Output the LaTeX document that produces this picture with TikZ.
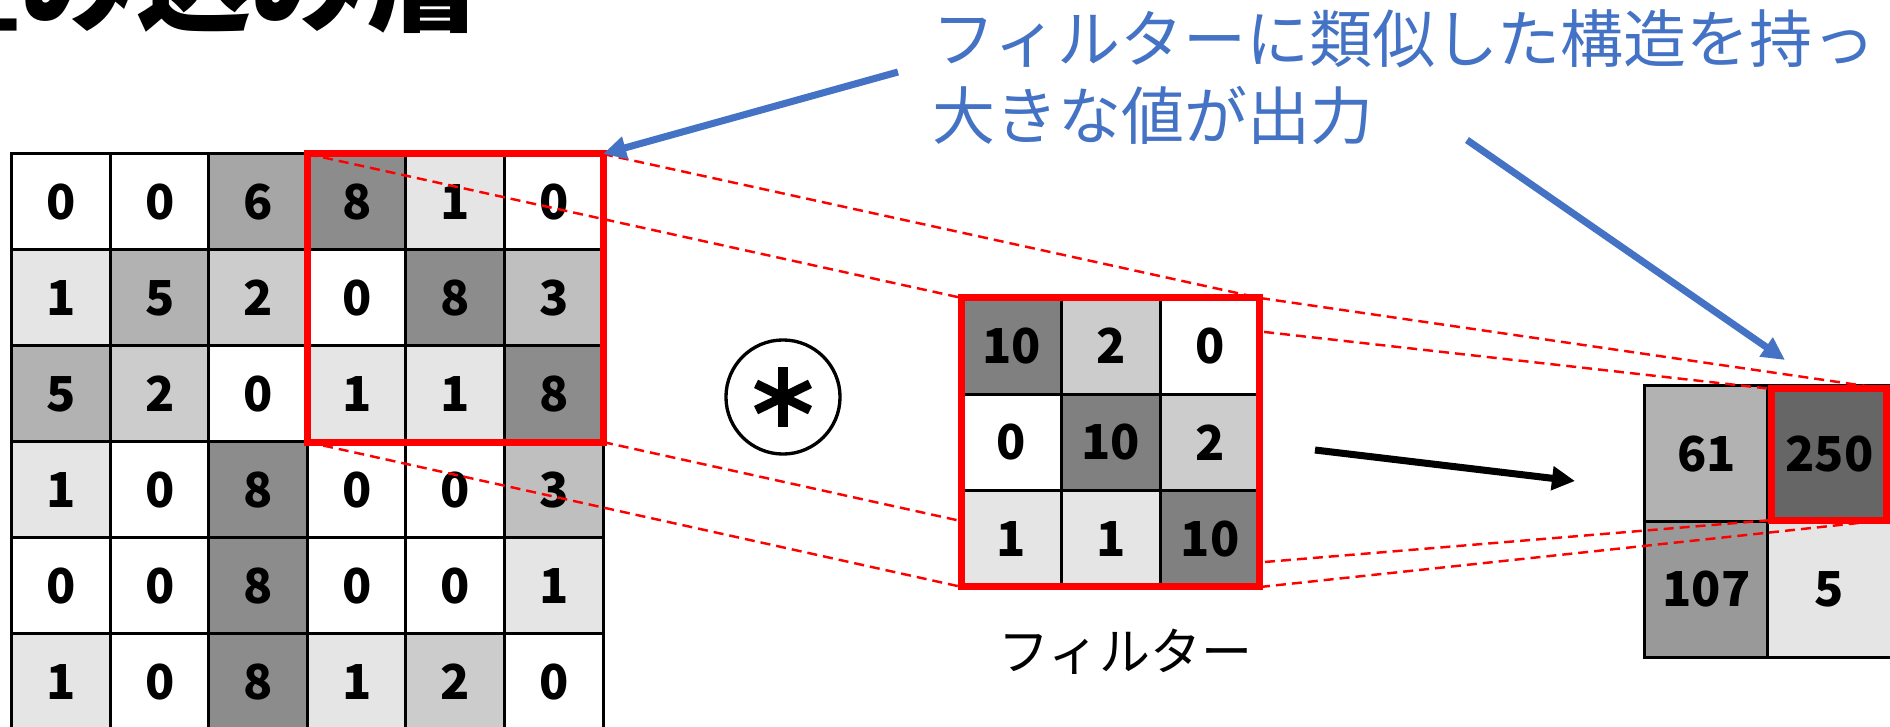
\documentclass[tikz,border=0pt]{standalone}
\usepackage{fontspec}
\setmainfont{Noto Sans CJK JP}
\usepackage{tikz}
\usetikzlibrary{arrows.meta,calc}
\definecolor{accent}{RGB}{68,114,196}
\definecolor{markred}{RGB}{255,0,0}
\colorlet{v0}{white}
\colorlet{v1}{black!10}
\colorlet{v2}{black!20}
\colorlet{v3}{black!25}
\colorlet{v5}{black!30}
\colorlet{v6}{black!35}
\colorlet{v8}{black!45}
\colorlet{v10}{black!50}

\begin{document}
\begin{tikzpicture}[x=0.01cm, y=-0.01cm, >=Stealth,
    cell/.style={draw, line width=0.85pt, inner sep=0pt, outer sep=0pt,
      font=\bfseries\fontsize{13.7}{16}\selectfont},
    incell/.style={cell, minimum width=0.985cm, minimum height=0.96cm},
    fcell/.style={cell, minimum width=0.993cm, minimum height=0.963cm},
    ocell/.style={cell, minimum width=1.23cm, minimum height=1.355cm},
    redbox/.style={draw=markred, line width=2pt},
    guide/.style={markred, line width=0.7pt, dash pattern=on 2.85pt off 1.7pt},
    note arrow/.style={accent, line width=2pt, -{Triangle[length=0.23cm, width=0.22cm]}},
  ]
  \useasboundingbox (0,0) rectangle (1890,727);
  \clip (0,0) rectangle (1890,727);

  % Title
  \node[anchor=base east, inner sep=0pt, font=\bfseries\fontsize{32.7}{36}\selectfont] (title) at (482,22) {畳み込み層};

  % Input image
  \foreach \row [count=\r] in {{0,0,6,8,1,0},{1,5,2,0,8,3},{5,2,0,1,1,8},{1,0,8,0,0,3},{0,0,8,0,0,1},{1,0,8,1,2,0}} {
    \foreach \v [count=\c] in \row {
      \node[incell, fill=v\v] (in-\r-\c) at ({12+98.5*(\c-0.5)}, {154+96*(\r-0.5)}) {\v};
    }
  }

  % Output map
  \foreach \v/\shade/\r/\c in {61/black!30/1/1, 250/black!60/1/2, 107/black!40/2/1, 5/black!10/2/2} {
    \node[ocell, fill=\shade] (out-\r-\c) at ({1645+123*(\c-0.5)}, {386+135.5*(\r-0.5)}) {\v};
  }
  \coordinate (o-nw) at ($(out-1-2.north west)+(4,3)$);
  \coordinate (o-se) at ($(out-1-2.south east)+(-5,-1.5)$);
  \coordinate (o-ne) at (o-se |- o-nw);
  \coordinate (o-sw) at (o-nw |- o-se);

  % Filter corners
  \coordinate (filt-nw) at (962,298);
  \coordinate (filt-se) at (1260,587);
  \coordinate (filt-ne) at (filt-se |- filt-nw);
  \coordinate (filt-sw) at (filt-nw |- filt-se);

  % Guide lines
  \draw[guide] (in-1-4.north west) -- (filt-nw);
  \draw[guide] (in-1-6.north east) -- (filt-ne);
  \draw[guide] (in-3-4.south west) -- (filt-sw);
  \draw[guide] (in-3-6.south east) -- (filt-se);
  \draw[guide] (filt-nw) -- (o-nw);
  \draw[guide] (filt-ne) -- (o-ne);
  \draw[guide] (filt-sw) -- (o-sw);
  \draw[guide] (filt-se) -- (o-se);

  % Window on input
  \draw[redbox] (in-1-4.north west) rectangle (in-3-6.south east);

  % Filter
  \foreach \row [count=\r] in {{10,2,0},{0,10,2},{1,1,10}} {
    \foreach \v [count=\c] in \row {
      \node[fcell, fill=v\v] (f-\r-\c) at ($(filt-nw)+({99.3*(\c-0.5)},{96.3*(\r-0.5)})$) {\v};
    }
  }
  \draw[redbox] (f-1-1.north west) rectangle (f-3-3.south east);
  \node[anchor=base, inner sep=0pt, font=\fontsize{14.5}{16}\selectfont] (flabel) at (1125,670) {フィルター};

  % Window on output
  \draw[redbox] (o-nw) rectangle (o-se);

  % Convolution sign
  \node[circle, draw, line width=0.95pt, minimum size=1.14cm, inner sep=0pt] (conv) at (783,397) {};
  \foreach \a in {90,26,-26}
    \draw[line width=2.6pt] ($(conv.center)+(\a:30)$) -- ($(conv.center)+(\a+180:30)$);

  % Result arrow
  \coordinate (map-from) at (1315,450);
  \coordinate (map-to) at (1575,481);
  \draw[line width=2pt, -{Triangle[length=0.23cm, width=0.23cm]}] (map-from) -- (map-to);

  % Note
  \node[accent, anchor=base west, inner sep=0pt, font=\fontsize{17.9}{20}\selectfont] (note1) at (932,62) {フィルターに類似した構造を持っ};
  \node[accent, anchor=base west, inner sep=0pt, font=\fontsize{17.9}{20}\selectfont] (note2) at (932,139) {大きな値が出力};
  \coordinate (tail1) at (898,72);
  \coordinate (tail2) at (1467,140);
  \coordinate (tip2) at (1785,360);
  \draw[note arrow] (tail1) -- (in-1-6.north east);
  \draw[note arrow] (tail2) -- (tip2);
\end{tikzpicture}
\end{document}
